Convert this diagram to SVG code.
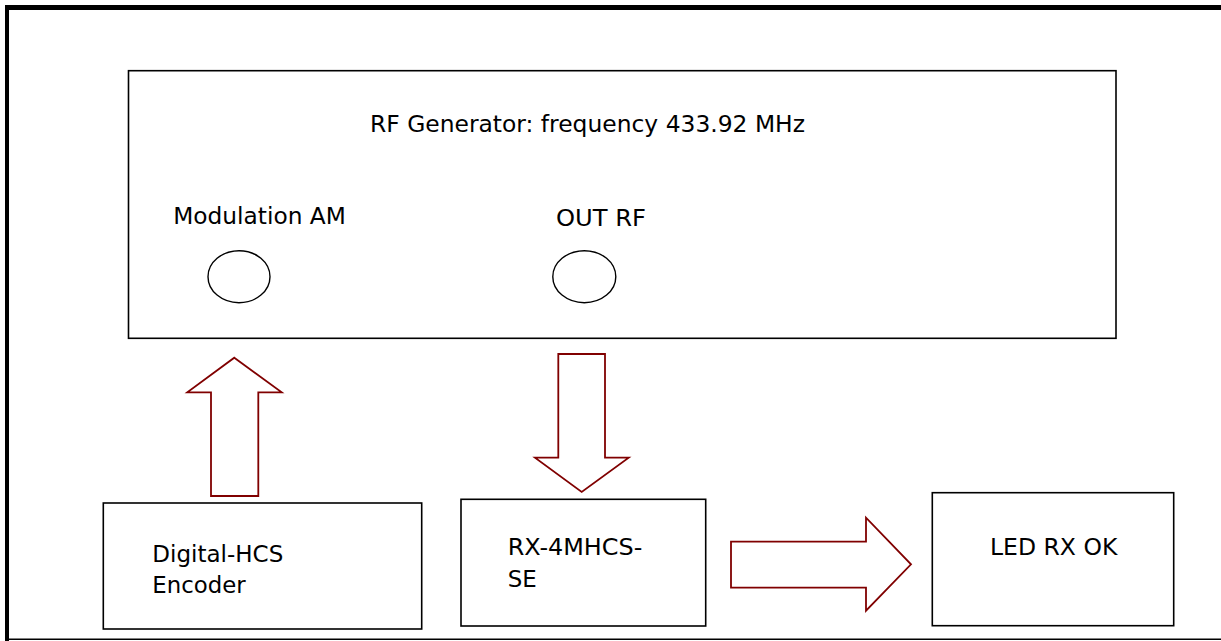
<svg xmlns="http://www.w3.org/2000/svg" width="1221" height="641" viewBox="0 0 1221 641">
<style>
.box{fill:#fff;stroke:#000;stroke-width:1.6}
.knob{fill:none;stroke:#000;stroke-width:1.4}
.arr{fill:#fff;stroke:#800000;stroke-width:1.8;stroke-linejoin:miter}
.t{font-family:"DejaVu Sans","Liberation Sans",sans-serif;font-size:23.5px;fill:#000}
</style>
<rect x="0" y="0" width="1221" height="641" fill="#fff"/>
<g id="frame">
<line x1="5" y1="7.5" x2="1221" y2="7.5" stroke="#000" stroke-width="5"/>
<line x1="7" y1="5" x2="7" y2="641" stroke="#000" stroke-width="4"/>
<line x1="7" y1="639.3" x2="1221" y2="639.3" stroke="#000" stroke-width="1.6"/>
</g>
<g id="rf-generator">
<rect class="box" x="128.5" y="70.7" width="987.5" height="267.6"/>
<text class="t" x="370" y="131.7" textLength="435" lengthAdjust="spacingAndGlyphs">RF Generator: frequency 433.92 MHz</text>
<text class="t" x="173.3" y="223.5" textLength="172.5" lengthAdjust="spacingAndGlyphs">Modulation AM</text>
<text class="t" x="556" y="225.5" textLength="90" lengthAdjust="spacingAndGlyphs">OUT RF</text>
<ellipse class="knob" cx="239" cy="276.7" rx="31" ry="26"/>
<ellipse class="knob" cx="584.3" cy="276.7" rx="31.5" ry="26"/>
</g>
<g id="encoder">
<rect class="box" x="103.3" y="503" width="318.4" height="126"/>
<text class="t" x="152.3" y="561.7" textLength="131" lengthAdjust="spacingAndGlyphs">Digital-HCS</text>
<text class="t" x="152.3" y="593.3" textLength="93.4" lengthAdjust="spacingAndGlyphs">Encoder</text>
</g>
<g id="receiver">
<rect class="box" x="461" y="499.3" width="244.7" height="126.7"/>
<text class="t" x="507.7" y="555" textLength="134.6" lengthAdjust="spacingAndGlyphs">RX-4MHCS-</text>
<text class="t" x="507.7" y="586.7" textLength="29" lengthAdjust="spacingAndGlyphs">SE</text>
</g>
<g id="led">
<rect class="box" x="932.3" y="492.7" width="241.4" height="133"/>
<text class="t" x="990" y="554.5" textLength="127.3" lengthAdjust="spacingAndGlyphs">LED RX OK</text>
</g>
<g id="connectors">
<polygon class="arr" points="234.3,357.7 281.7,392.3 258.3,392.3 258.3,496 211,496 211,392.3 187.3,392.3"/>
<polygon class="arr" points="558.3,354 605,354 605,457.7 628.7,457.7 581.7,492 535,457.7 558.3,457.7"/>
<polygon class="arr" points="731,541.7 866,541.7 866,517.7 911,564.3 866,610.7 866,587.7 731,587.7"/>
</g>
</svg>
